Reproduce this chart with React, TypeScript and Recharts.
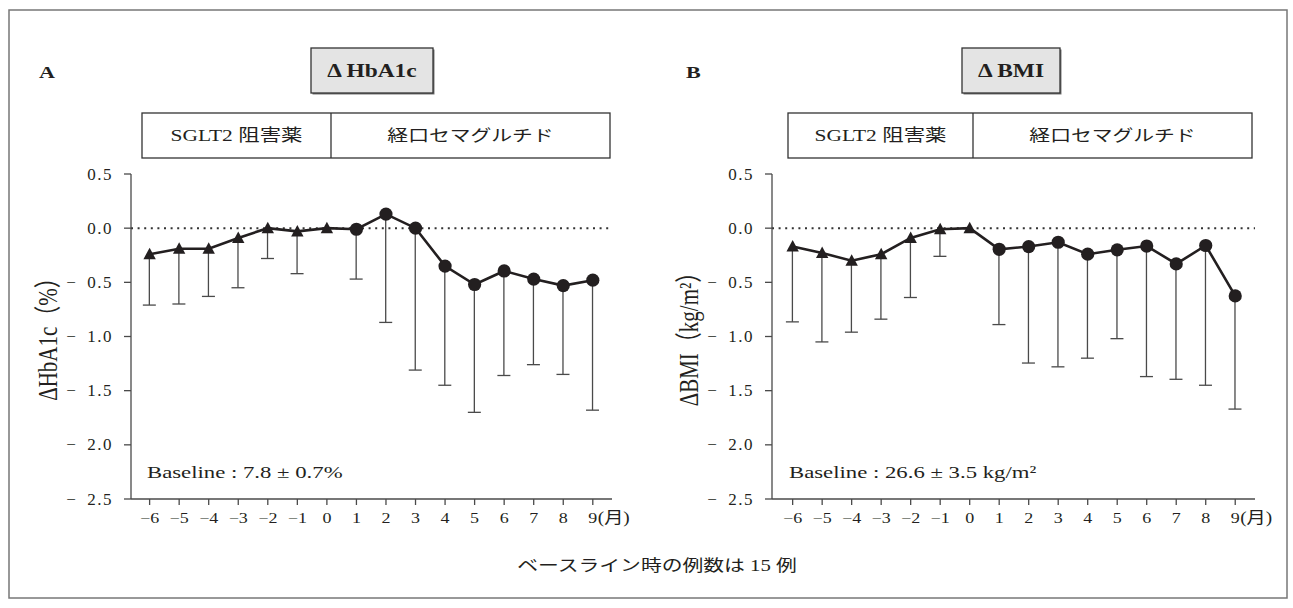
import { Bar, ComposedChart, Line, ReferenceLine, XAxis, YAxis } from "recharts"

// months relative to the switch (negative = SGLT2 inhibitor period)
const months = [-6, -5, -4, -3, -2, -1, 0, 1, 2, 3, 4, 5, 6, 7, 8, 9]

// ΔHbA1c (%): mean and lower end of the SD whisker
const hba1cMean = [-0.24, -0.19, -0.19, -0.09, 0.0, -0.03, 0.0, -0.01, 0.13, 0.0, -0.35, -0.52, -0.395, -0.47, -0.53, -0.48]
const hba1cLow = [-0.71, -0.7, -0.63, -0.55, -0.28, -0.42, null, -0.47, -0.87, -1.31, -1.45, -1.7, -1.36, -1.26, -1.35, -1.68]

// ΔBMI (kg/m²)
const bmiMean = [-0.17, -0.23, -0.3, -0.24, -0.09, -0.01, 0.0, -0.195, -0.17, -0.13, -0.24, -0.2, -0.165, -0.33, -0.16, -0.625]
const bmiLow = [-0.865, -1.05, -0.96, -0.84, -0.64, -0.26, null, -0.89, -1.245, -1.28, -1.2, -1.02, -1.37, -1.395, -1.45, -1.67]

const yTicks = [0.5, 0, -0.5, -1, -1.5, -2, -2.5]
const phaseLabels = ["SGLT2 阻害薬", "経口セマグルチド"]

const INK = "#231f20"
const GREY = "#4a4a4a"
const SERIF = "'Liberation Serif', 'Noto Sans CJK JP', serif"
const STRETCH = 1.3

function buildRows(mean: number[], low: (number | null)[]) {
  return months.map((m, i) => ({
    month: m,
    mean: mean[i],
    spread: low[i] == null ? null : [low[i], mean[i]],
  }))
}

// serif text, widened horizontally like the rest of the figure
function Wide({ x, y, size, anchor = "start", weight, sx = STRETCH, rotate, children }: any) {
  const t = `translate(${x},${y}) scale(${sx},1)` + (rotate ? ` rotate(${rotate})` : "")
  return (
    <text
      transform={t}
      fontSize={size}
      textAnchor={anchor}
      fontFamily={SERIF}
      fontWeight={weight}
      fill={INK}
    >
      {children}
    </text>
  )
}

// value labels: "− 0.5" with a gap after the minus
function ValueTick({ x, y, payload }: any) {
  const v = Number(payload.value)
  const label = v < 0 ? `\u2212\u2002${Math.abs(v).toFixed(1)}` : v.toFixed(1)
  return (
    <text
      x={x}
      y={Math.round(y + 5.5)}
      textAnchor="end"
      fontSize={17}
      fontFamily={SERIF}
      letterSpacing={1.5}
      fill={INK}
    >
      {label}
    </text>
  )
}

function MonthTick({ x, y, payload }: any) {
  const m = Number(payload.value)
  const label = m < 0 ? `\u2212${-m}` : `${m}`
  const last = m === months[months.length - 1]
  return (
    <g>
      <Wide x={x} y={y + 16} size={15} anchor="middle" sx={1.2}>
        {label}
      </Wide>
      {last && (
        <Wide x={x + 5} y={y + 16} size={16} sx={1.2}>
          (月)
        </Wide>
      )}
    </g>
  )
}

// one-sided SD whisker: stem from the mean down to mean - SD, cap at the bottom
function Whisker(props: any) {
  const { x, y, width, height } = props
  if (x == null || y == null || height == null || Math.abs(height) < 0.5) return <g />
  const cx = x + width / 2
  const top = Math.min(y, y + height)
  const bottom = Math.max(y, y + height)
  return (
    <g stroke={GREY} strokeWidth={1.3}>
      <line x1={cx} x2={cx} y1={top} y2={bottom} />
      <line x1={cx - 6.5} x2={cx + 6.5} y1={bottom} y2={bottom} />
    </g>
  )
}

// triangles while on SGLT2 inhibitor, circles after the switch
function Marker(props: any) {
  const { cx, cy, payload, index } = props
  if (cx == null || cy == null) return <g key={index} />
  if (payload.month <= 0) {
    return (
      <path
        key={index}
        d={`M${cx},${cy - 6.5} L${cx + 6.2},${cy + 5} L${cx - 6.2},${cy + 5} Z`}
        fill={INK}
      />
    )
  }
  return <circle key={index} cx={cx} cy={cy} r={6.6} fill={INK} />
}

function Panel({ data, domain, left, marginLeft, marginRight }: any) {
  return (
    <div style={{ position: "absolute", left, top: 0 }}>
      <ComposedChart
        width={640}
        height={560}
        data={data}
        margin={{ top: 174, right: marginRight, bottom: 31, left: marginLeft }}
      >
        <XAxis
          type="number"
          dataKey="month"
          domain={domain}
          ticks={months}
          height={30}
          tickSize={6}
          stroke={GREY}
          strokeWidth={1.3}
          tick={<MonthTick />}
        />
        <YAxis
          type="number"
          domain={[-2.5, 0.5]}
          ticks={yTicks}
          width={100}
          tickSize={7}
          tickMargin={11}
          stroke={GREY}
          strokeWidth={1.3}
          tick={<ValueTick />}
        />
        <ReferenceLine y={0} stroke="#333" strokeWidth={2} strokeDasharray="2 4.6" />
        <Bar dataKey="spread" barSize={13} shape={<Whisker />} isAnimationActive={false} />
        <Line
          type="linear"
          dataKey="mean"
          stroke={INK}
          strokeWidth={2.6}
          dot={(p: any) => <Marker key={p.index} {...p} />}
          activeDot={false}
          isAnimationActive={false}
        />
      </ComposedChart>
    </div>
  )
}

function Headers({ letter, letterX, title, boxX, boxW, phaseX, phaseW, divider }: any) {
  return (
    <g>
      <Wide x={letterX} y={78} size={17} weight="bold">
        {letter}
      </Wide>
      <rect x={boxX + 1.5} y={49.5} width={boxW} height={45} fill="#777" />
      <rect x={boxX} y={48} width={boxW} height={45} fill="#e4e4e4" stroke="#333" strokeWidth={1.3} />
      <Wide x={boxX + boxW / 2} y={76.5} size={18} weight="bold" anchor="middle">
        {title}
      </Wide>
      <rect x={phaseX} y={113} width={phaseW} height={45} fill="#fff" stroke="#333" strokeWidth={1.3} />
      <line x1={divider} x2={divider} y1={113} y2={158} stroke="#333" strokeWidth={1.3} />
      <Wide x={(phaseX + divider) / 2} y={141} size={16.5} anchor="middle">
        {phaseLabels[0]}
      </Wide>
      <Wide x={(divider + phaseX + phaseW) / 2} y={141} size={16} anchor="middle">
        {phaseLabels[1]}
      </Wide>
    </g>
  )
}

export default function App() {
  const hba1cRows = buildRows(hba1cMean, hba1cLow)
  const bmiRows = buildRows(bmiMean, bmiLow)

  return (
    <div
      style={{
        position: "absolute",
        left: 0,
        top: 0,
        width: 1293,
        height: 608,
        background: "#fff",
        overflow: "hidden",
      }}
    >
      <Panel data={hba1cRows} domain={[-6.63, 9.65]} left={0} marginLeft={31} marginRight={28} />
      <Panel data={bmiRows} domain={[-6.7, 9.67]} left={640} marginLeft={32} marginRight={25} />

      <svg
        width={1293}
        height={608}
        style={{ position: "absolute", left: 0, top: 0, pointerEvents: "none" }}
      >
        <rect x={9} y={10} width={1278} height={588} fill="none" stroke="#777" strokeWidth={1.5} />

        <Headers
          letter="A"
          letterX={39}
          title="Δ HbA1c"
          boxX={311}
          boxW={122}
          phaseX={142}
          phaseW={468}
          divider={331}
        />
        <Headers
          letter="B"
          letterX={686}
          title="Δ BMI"
          boxX={962}
          boxW={98}
          phaseX={788}
          phaseW={464}
          divider={973}
        />

        <Wide x={57} y={334} size={21} anchor="middle" rotate={-90}>
          ΔHbA1c（%）
        </Wide>
        <Wide x={698} y={334} size={21} anchor="middle" rotate={-90}>
          ΔBMI（kg/m²）
        </Wide>

        <Wide x={147} y={478} size={17.5}>
          Baseline : 7.8 ± 0.7%
        </Wide>
        <Wide x={789} y={478} size={17.5}>
          Baseline : 26.6 ± 3.5 kg/m²
        </Wide>

        <Wide x={657} y={571} size={16} anchor="middle">
          ベースライン時の例数は 15 例
        </Wide>
      </svg>
    </div>
  )
}
